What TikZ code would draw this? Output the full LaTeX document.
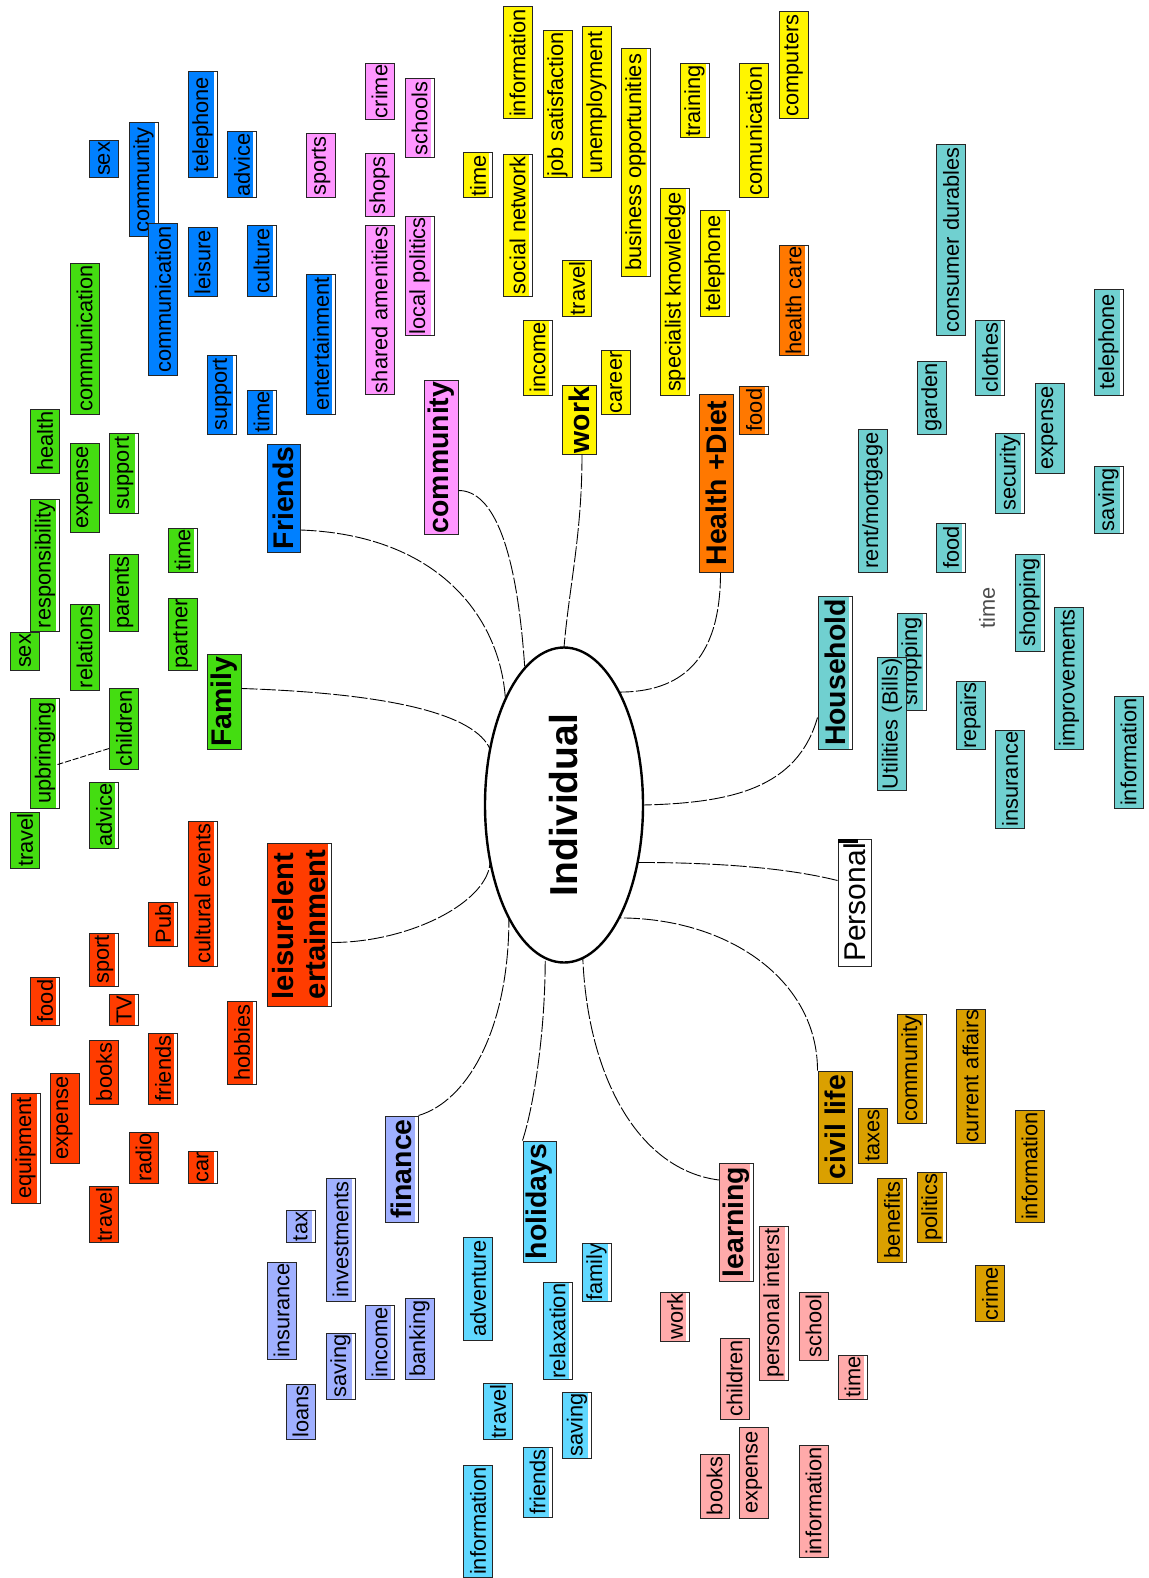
\documentclass[tikz,border=0pt]{standalone}
\usepackage{fontspec}
\setmainfont{Liberation Sans}
\usetikzlibrary{shapes.geometric,calc}
\definecolor{cB}{RGB}{0,128,255}
\definecolor{cP}{RGB}{255,150,255}
\definecolor{cY}{RGB}{255,245,0}
\definecolor{cO}{RGB}{255,120,0}
\definecolor{cT}{RGB}{112,208,208}
\definecolor{cE}{RGB}{68,221,17}
\definecolor{cR}{RGB}{255,60,0}
\definecolor{cG}{RGB}{218,160,0}
\definecolor{cS}{RGB}{255,170,170}
\definecolor{cV}{RGB}{160,176,255}
\definecolor{cL}{RGB}{96,216,255}
\newcommand\smf{\fontsize{10.9}{12}\selectfont}
\newcommand\mnf{\fontsize{14.2}{15.5}\selectfont\bfseries}
\begin{document}
\begin{tikzpicture}[x=0.5pt,y=-0.5pt,
  bx/.style={rotate=90, draw=black!85, line width=0.5pt, inner sep=0pt, inner xsep=0.5pt,
    minimum height=14.5pt, font=\smf},
  L/.style={minimum width=#1*0.5pt},
  sb/.style={fill=white, path picture={\fill[#1] (path picture bounding box.north west) rectangle ([xshift=-1.6pt,yshift=1.6pt]path picture bounding box.south east);}},
  mn/.style={bx, minimum height=17pt, font=\mnf},
  cn/.style={line width=0.45pt, dash pattern=on 8pt off 1.2pt},
]
\useasboundingbox (0,0) rectangle (1149,1578);

% centre
\node[ellipse, draw, line width=1.2pt, minimum width=79pt, minimum height=157.5pt, inner sep=0pt, outer sep=0pt] (ind) at (564,805)
  {\rotatebox{90}{\fontsize{19.5}{20}\selectfont\bfseries Individual}};

% Friends (blue)
\node[bx, fill=cB, L=37] (bsex) at (104,159) {sex};
\node[bx, sb=cB, L=114] (bcomm) at (143.5,180) {community};
\node[bx, fill=cB, L=151] (bcomu) at (163,299.5) {communication};
\node[bx, sb=cB, L=106] (btel) at (202.5,125) {telephone};
\node[bx, sb=cB, L=66] (badv) at (242,165) {advice};
\node[bx, fill=cB, L=68] (blei) at (202.5,262) {leisure};
\node[bx, sb=cB, L=70] (bcul) at (261.5,261) {culture};
\node[bx, sb=cB, L=79] (bsup) at (222,394.5) {support};
\node[bx, sb=cB, L=44] (btim) at (261.5,412) {time};
\node[bx, sb=cB, L=140] (bent) at (321,344) {entertainment};
\node[mn, fill=cB, L=108, minimum height=16.5pt] (friends) at (283.5,498) {Friends};

% community (pink)
\node[bx, fill=cP, L=64] (psp) at (321,166) {sports};
\node[bx, fill=cP, L=55] (pcr) at (379.5,91.5) {crime};
\node[bx, fill=cP, L=63] (psh) at (379.5,185.5) {shops};
\node[bx, fill=cP, L=168] (psa) at (379.5,310) {shared amenities};
\node[bx, sb=cP, L=79] (psc) at (419.5,118.5) {schools};
\node[bx, sb=cP, L=118] (plp) at (419.5,276) {local politics};
\node[mn, fill=cP, L=151] (commu) at (441,457.5) {community};

% work (yellow)
\node[bx, sb=cY, L=45] (ytim) at (478,175.5) {time};
\node[bx, fill=cY, L=112] (yinf) at (517.5,63) {information};
\node[bx, sb=cY, L=141] (ysn) at (517.5,225.5) {social network};
\node[bx, fill=cY, L=147] (yjs) at (557.5,104.5) {job satisfaction};
\node[bx, fill=cY, L=151] (yun) at (596.5,102.5) {unemployment};
\node[bx, sb=cY, L=227] (ybo) at (635.5,162.5) {business opportunities};
\node[bx, sb=cY, L=74] (ytr) at (694.5,101) {training};
\node[bx, fill=cY, L=134] (ycom) at (754,131) {comunication};
\node[bx, fill=cY, L=107] (ycpt) at (793.5,65.5) {computers};
\node[bx, fill=cY, L=55] (ytra) at (577,288.5) {travel};
\node[bx, sb=cY, L=75] (yinc) at (537.5,357.5) {income};
\node[bx, sb=cY, L=206] (ysk) at (675,292) {specialist knowledge};
\node[bx, sb=cY, L=105] (ytel) at (714.5,263.5) {telephone};
\node[bx, fill=cY, L=63] (ycar) at (616,382.5) {career};
\node[mn, fill=cY, L=68] (work) at (579,420) {work};

% health (orange)
\node[bx, sb=cO, L=109] (ohc) at (793.5,300.5) {health care};
\node[bx, sb=cO, L=48] (ofd) at (754,410) {food};
\node[mn, fill=cO, L=178] (health) at (716.5,483) {Health +Diet};

% household (teal)
\node[bx, fill=cT, L=190] (tcd) at (951,240) {consumer durables};
\node[bx, fill=cT, L=73] (tga) at (931.5,397.5) {garden};
\node[bx, sb=cT, L=75] (tcl) at (990,357.5) {clothes};
\node[bx, sb=cT, L=106] (ttel) at (1108.5,342) {telephone};
\node[bx, fill=cT, L=90] (texp) at (1049.5,428) {expense};
\node[bx, fill=cT, L=143] (trm) at (872.5,500.5) {rent/mortgage};
\node[bx, sb=cT, L=80] (tsec) at (1010,473) {security};
\node[bx, sb=cT, L=67] (tsav) at (1108.5,499.5) {saving};
\node[bx, sb=cT, L=49] (tfd) at (951,547.5) {food};
\node[rotate=90, inner sep=0pt, font=\smf, text=black!70] (ttime) at (987,608) {time};
\node[bx, sb=cT, L=97] (tsh1) at (1029.5,602.5) {shopping};
\node[mn, sb=cT, L=153] (house) at (835,672.5) {Household};
\node[bx, sb=cT, L=97] (tsh2) at (911.5,661.5) {shopping};
\node[bx, fill=cT, L=130] (tut) at (892,724) {Utilities (Bills)};
\node[bx, fill=cT, L=67] (trep) at (970.5,715.5) {repairs};
\node[bx, fill=cT, L=142] (timp) at (1069,678) {improvements};
\node[bx, fill=cT, L=98] (tins) at (1010,779) {insurance};
\node[bx, fill=cT, L=112] (tinf) at (1128.5,752) {information};

% personal
\node[bx, fill=white, L=127, minimum height=16.5pt, font=\fontsize{15}{16}\selectfont] (pers) at (854.5,902.5) {Personal};
\fill (838,839) rectangle (858,843);

% civil life (gold)
\node[mn, fill=cG, L=112] (civil) at (835,1127) {civil life};
\node[bx, fill=cG, L=55] (gtax) at (872.5,1135.5) {taxes};
\node[bx, sb=cG, L=109] (gcom) at (911.5,1068.5) {community};
\node[bx, fill=cG, L=133] (gca) at (970.5,1076.5) {current affairs};
\node[bx, sb=cG, L=84] (gben) at (892,1220) {benefits};
\node[bx, sb=cG, L=70] (gpol) at (931.5,1207) {politics};
\node[bx, fill=cG, L=112] (ginf) at (1029.5,1166) {information};
\node[bx, fill=cG, L=55] (gcr) at (990,1293.5) {crime};

% learning (salmon)
\node[mn, sb=cS, L=118] (learn) at (736.5,1222) {learning};
\node[bx, sb=cS, L=154] (spi) at (773.5,1303) {personal interst};
\node[bx, fill=cS, L=68] (ssc) at (813.5,1326) {school};
\node[bx, sb=cS, L=44] (stim) at (852.5,1377) {time};
\node[bx, sb=cS, L=49] (swk) at (675,1316.5) {work};
\node[bx, fill=cS, L=81] (sch) at (734.5,1378.5) {children};
\node[bx, fill=cS, L=64] (sbk) at (714.5,1486) {books};
\node[bx, fill=cS, L=91] (sexp) at (754,1472.5) {expense};
\node[bx, fill=cS, L=112] (sinf) at (813.5,1501) {information};

% finance (periwinkle)
\node[mn, sb=cV, L=106, minimum height=16.5pt] (fin) at (401.5,1169) {finance};
\node[bx, sb=cV, L=31] (vtax) at (300.5,1226.5) {tax};
\node[bx, sb=cV, L=123] (vinv) at (340.5,1239.5) {investments};
\node[bx, fill=cV, L=97] (vins) at (281.5,1310.5) {insurance};
\node[bx, sb=cV, L=66] (vsav) at (340.5,1366) {saving};
\node[bx, sb=cV, L=74] (vinc) at (379.5,1342) {income};
\node[bx, fill=cV, L=81] (vbank) at (419.5,1338.5) {banking};
\node[bx, fill=cV, L=55] (vloan) at (300.5,1411.5) {loans};

% holidays (light blue)
\node[mn, fill=cL, L=121, minimum height=16.5pt] (hol) at (539.5,1201.5) {holidays};
\node[bx, fill=cL, L=103] (ladv) at (478,1288.5) {adventure};
\node[bx, sb=cL, L=57] (lfam) at (596.5,1272.5) {family};
\node[bx, sb=cL, L=96] (lrel) at (557.5,1331) {relaxation};
\node[bx, fill=cL, L=55] (ltra) at (498,1411.5) {travel};
\node[bx, sb=cL, L=66] (lsav) at (577,1425) {saving};
\node[bx, sb=cL, L=70] (lfr) at (537.5,1482) {friends};
\node[bx, fill=cL, L=112] (linf) at (478,1521) {information};

% family (green)
\node[bx, fill=cE, L=151] (ecm) at (84.5,338.5) {communication};
\node[bx, fill=cE, L=64] (ehe) at (45,441) {health};
\node[bx, fill=cE, L=89] (eexp) at (84.5,487.5) {expense};
\node[bx, sb=cE, L=80] (esup) at (124,473) {support};
\node[bx, sb=cE, L=132] (eres) at (45,565) {responsibility};
\node[bx, fill=cE, L=38] (esex) at (25,651) {sex};
\node[bx, fill=cE, L=86] (erel) at (84.5,647) {relations};
\node[bx, fill=cE, L=77] (epar) at (124,592.5) {parents};
\node[bx, sb=cE, L=44] (etim) at (182.5,550) {time};
\node[bx, fill=cE, L=72] (epart) at (182.5,634) {partner};
\node[mn, fill=cE, L=95] (family) at (224,701.5) {Family};
\node[bx, sb=cE, L=110] (eupb) at (45,753) {upbringing};
\node[bx, fill=cE, L=81] (echi) at (124,728.5) {children};
\node[bx, sb=cE, L=66] (eadv) at (104,815) {advice};
\node[bx, fill=cE, L=56] (etra) at (25,840) {travel};

% leisure (red)
\node[bx, sb=cR, L=145] (rce) at (202.5,893.5) {cultural events};
\node[mn, sb=cR, L=163, minimum height=32pt, align=left, font=\fontsize{14.6}{15.6}\selectfont\bfseries] (leis) at (299,924.5) {leisurelent\\ertainment};
\node[bx, sb=cR, L=44] (rpub) at (163,924) {Pub};
\node[bx, sb=cR, L=53] (rsp) at (104,959.5) {sport};
\node[bx, sb=cR, L=48] (rfd) at (45,1001) {food};
\node[bx, sb=cR, L=31] (rtv) at (124,1009.5) {TV};
\node[bx, sb=cR, L=83] (rhob) at (242,1042.5) {hobbies};
\node[bx, fill=cR, L=64] (rbk) at (104,1072) {books};
\node[bx, sb=cR, L=71] (rfr) at (163,1068.5) {friends};
\node[bx, fill=cR, L=90] (rexp) at (64.5,1118) {expense};
\node[bx, sb=cR, L=110] (requ) at (25.5,1148) {equipment};
\node[bx, fill=cR, L=51] (rrad) at (143.5,1157.5) {radio};
\node[bx, sb=cR, L=31] (rcar) at (202.5,1167.5) {car};
\node[bx, fill=cR, L=55] (rtra) at (104,1214.5) {travel};

% connectors
\draw[cn] ($(friends.south)+(0,32)$) .. controls +(140,5) and +(-5,-80) .. (ind.119.5);
\draw[cn] ($(family.south)+(0,-13)$) .. controls +(150,5) and +(-15,-35) .. (ind.143.5);
\draw[cn] ($(commu.south)+(0,33)$) .. controls +(35,0) and +(-8,-120) .. (ind.106.5);
\draw[cn] ($(work.west)+(3,0)$) .. controls +(0,80) and +(5,-60) .. (ind.90);
\draw[cn] ($(health.west)+(4,0)$) .. controls +(0,90) and +(60,0) .. (ind.64);
\draw[cn] ($(house.north)+(0,45)$) .. controls +(-20,70) and +(90,-2) .. (ind.0);
\draw[cn] ($(pers.north)+(0,-22)$) .. controls +(-60,-15) and +(60,0) .. (ind.-38);
\draw[cn] (civil.north east) .. controls +(0,-90) and +(110,0) .. (ind.-64.8);
\draw[cn] ($(learn.north)+(0,-42)$) .. controls +(-80,-10) and +(5,120) .. (ind.-83.5);
\draw[cn] (hol.north east) .. controls +(10,-30) and +(0,80) .. (ind.-97.6);
\draw[cn] (fin.south east) .. controls +(50,-15) and +(0,110) .. (ind.-116.8);
\draw[cn] ($(leis.south)+(0,18)$) .. controls +(80,0) and +(0,40) .. (ind.-143);
\draw[line width=0.45pt, dash pattern=on 3pt off 1pt] ($(echi.north)+(0,20)$) -- ($(eupb.south)+(-4,12)$);
\end{tikzpicture}
\end{document}
